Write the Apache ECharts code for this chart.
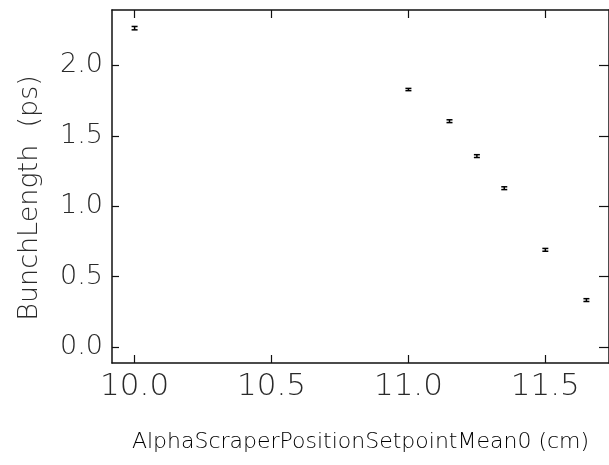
<!DOCTYPE html>
<html><head><meta charset="utf-8">
<script src="https://cdn.jsdelivr.net/npm/echarts@6/dist/echarts.min.js"></script>
<style>html,body{margin:0;padding:0;background:#fff;overflow:hidden}#c{width:609px;height:465px}</style>
</head><body><div id="c"></div>
<script>
const positions = [10.0, 11.0, 11.15, 11.25, 11.35, 11.5, 11.65];
const bunchLength = [2.265, 1.829, 1.604, 1.356, 1.128, 0.690, 0.333];
const bunchErr = [0.012, 0.008, 0.010, 0.010, 0.010, 0.010, 0.010];
const xTicks = [10.0, 10.5, 11.0, 11.5];
const yTicks = [0.0, 0.5, 1.0, 1.5, 2.0];
const xRange = [9.9175, 11.7325];
const yRange = [-0.114, 2.394];
const xTitle = 'AlphaScraperPositionSetpointMean0 (cm)';
const yTitle = 'BunchLength  (ps)';

const font = 'DejaVu Sans';
const ink = '#111';
const txt = '#2a2a2a';

const chart = echarts.init(document.getElementById('c'), null, {renderer: 'canvas'});
const data = positions.map((x, i) => [x, bunchLength[i], bunchErr[i]]);

function axisCommon() {
  return {
    axisLine: {show: true, onZero: false, lineStyle: {color: ink, width: 1.5}},
    splitLine: {show: false},
  };
}

chart.setOption({
  animation: false,
  grid: {left: 112, top: 10, width: 504, height: 353, containLabel: false},
  graphic: [{
    type: 'text', x: 30, y: 198, rotation: Math.PI / 2,
    style: {text: yTitle, fontFamily: font, fontWeight: 200, fontSize: 27, fill: txt,
      textAlign: 'center', textVerticalAlign: 'middle'}
  }],
  xAxis: [{
    type: 'value', min: xRange[0], max: xRange[1], position: 'bottom',
    ...axisCommon(),
    axisTick: {show: true, inside: true, length: 8, customValues: xTicks, lineStyle: {color: ink, width: 1.2}},
    axisLabel: {show: true, customValues: xTicks, margin: 8, fontFamily: font, fontWeight: 200, fontSize: 31, color: txt,
      formatter: v => v.toFixed(1)},
    name: xTitle, nameLocation: 'middle', nameGap: 68,
    nameTextStyle: {fontFamily: font, fontWeight: 300, fontSize: 22, color: '#000'}
  }, {
    type: 'value', min: xRange[0], max: xRange[1], position: 'top',
    ...axisCommon(),
    axisTick: {show: true, inside: true, length: 8, customValues: xTicks, lineStyle: {color: ink, width: 1.2}},
    axisLabel: {show: false}
  }],
  yAxis: [{
    type: 'value', min: yRange[0], max: yRange[1], position: 'left',
    ...axisCommon(),
    axisTick: {show: true, inside: true, length: 7, customValues: yTicks, lineStyle: {color: ink, width: 1.2}},
    axisLabel: {show: true, customValues: yTicks, margin: 9, fontFamily: font, fontWeight: 200, fontSize: 27, color: txt,
      formatter: v => v.toFixed(1)}
  }, {
    type: 'value', min: yRange[0], max: yRange[1], position: 'right',
    ...axisCommon(),
    axisTick: {show: true, inside: true, length: 10, customValues: yTicks, lineStyle: {color: ink, width: 1.2}},
    axisLabel: {show: false}
  }],
  series: [{
    type: 'custom',
    xAxisIndex: 0, yAxisIndex: 0,
    data: data,
    renderItem: function (params, api) {
      const x = api.value(0), y = api.value(1), e = api.value(2);
      const top = api.coord([x, y + e]);
      const bot = api.coord([x, y - e]);
      const hw = 3;
      const style = {stroke: '#000', lineWidth: 1.5};
      return {
        type: 'group',
        children: [
          {type: 'line', shape: {x1: top[0], y1: top[1], x2: bot[0], y2: bot[1]}, style},
          {type: 'line', shape: {x1: top[0] - hw, y1: top[1], x2: top[0] + hw, y2: top[1]}, style},
          {type: 'line', shape: {x1: bot[0] - hw, y1: bot[1], x2: bot[0] + hw, y2: bot[1]}, style}
        ]
      };
    }
  }]
});
</script></body></html>
